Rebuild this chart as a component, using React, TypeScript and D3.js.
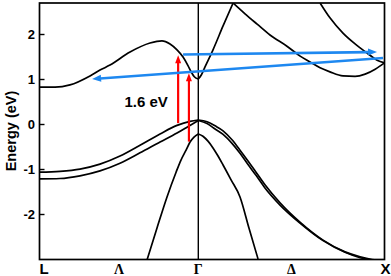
import React from "react";
import * as d3 from "d3";

type P = [number, number];

// k path coordinate: L = -1, Γ = 0, X = 1 ; energies in eV
const kLabels = ["L", "Λ", "Γ", "Δ", "X"];
const kLabelPos = [-1, -0.5, 0, 0.5, 1];
const yTicks = [-2, -1, 0, 1, 2];

const cbLeft: P[] = [
  [-1, 0.83], [-0.902, 0.83], [-0.808, 0.88], [-0.682, 1.08], [-0.619, 1.21],
  [-0.556, 1.32], [-0.43, 1.61], [-0.304, 1.81], [-0.229, 1.86], [-0.178, 1.79],
  [-0.134, 1.66], [-0.096, 1.5], [-0.065, 1.31], [-0.045, 1.17], [-0.025, 1.06], [0, 1.01],
];
const cbRightA: P[] = [
  [0, 1.01], [0.016, 1.1], [0.036, 1.28], [0.079, 1.66], [0.133, 2.19], [0.187, 2.7],
];
const cbRightB: P[] = [
  [0.187, 2.7], [0.251, 2.46], [0.316, 2.23], [0.385, 1.99], [0.476, 1.74], [0.547, 1.52],
  [0.6, 1.39], [0.654, 1.26], [0.707, 1.17], [0.777, 1.08], [0.842, 1.07], [0.896, 1.12],
  [0.95, 1.23], [1, 1.37],
];
const cbRightC: P[] = [
  [0.654, 2.7], [0.707, 2.37], [0.777, 2.03], [0.842, 1.79], [0.906, 1.59], [0.96, 1.43], [1, 1.37],
];
const vbHHLeft: P[] = [
  [-1, -1.06], [-0.871, -1.04], [-0.745, -0.99], [-0.619, -0.88], [-0.493, -0.7],
  [-0.367, -0.46], [-0.241, -0.21], [-0.134, -0.02], [-0.052, 0.07], [0, 0.1],
];
const vbLHLeft: P[] = [
  [-1, -1.21], [-0.871, -1.2], [-0.745, -1.14], [-0.619, -1.03], [-0.493, -0.86],
  [-0.367, -0.63], [-0.241, -0.39], [-0.134, -0.19], [-0.071, -0.06], [0, 0.09],
];
const vbSOLeft: P[] = [
  [-0.323, -3.01], [-0.26, -2.3], [-0.197, -1.61], [-0.14, -1.06], [-0.109, -0.79],
  [-0.077, -0.57], [-0.052, -0.39], [-0.027, -0.28], [0, -0.21],
];
const vbSORight: P[] = [
  [0, -0.21], [0.025, -0.26], [0.052, -0.37], [0.079, -0.52], [0.106, -0.7], [0.133, -0.9],
  [0.176, -1.23], [0.224, -1.61], [0.272, -2.3], [0.321, -2.99],
];
const vbHHRight: P[] = [
  [0, 0.1], [0.047, 0.06], [0.09, -0.03], [0.133, -0.14], [0.181, -0.34], [0.224, -0.57],
  [0.267, -0.81], [0.31, -1.06], [0.358, -1.34], [0.439, -1.74], [0.546, -2.17],
  [0.67, -2.57], [0.788, -2.83], [0.869, -2.94], [0.933, -3.0], [1, -3.03],
];
const vbLHRight: P[] = [
  [0, 0.09], [0.047, 0.02], [0.09, -0.1], [0.133, -0.22], [0.181, -0.42], [0.224, -0.64],
  [0.267, -0.89], [0.31, -1.13], [0.358, -1.41], [0.439, -1.79], [0.546, -2.19],
  [0.67, -2.58], [0.788, -2.84], [0.869, -2.96], [0.933, -3.01], [1, -3.04],
];
const bands = [cbLeft, cbRightA, cbRightB, cbRightC, vbHHLeft, vbLHLeft, vbSOLeft, vbSORight, vbHHRight, vbLHRight];

// transitions: [kFrom, eFrom, kTo, eTo]
const redArrows = [
  [-0.127, 0.03, -0.127, 1.54],
  [-0.059, -0.38, -0.059, 1.14],
];
const blueArrows = [
  [-0.096, 1.556, 0.96, 1.611],
  [0.992, 1.478, -0.669, 1.011],
];
const gapLabel = "1.6 eV";
const gapLabelPos: P = [-0.465, 0.4];

const W = 391, H = 276;

export default function App() {
  const x = d3.scaleLinear().domain([-1, 0, 1]).range([39.5, 198.3, 384.5]);
  const y = d3.scaleLinear().domain([-3, 2.7]).range([259.5, 3]);
  const line = d3
    .line<P>()
    .x((d) => x(d[0]))
    .y((d) => y(d[1]))
    .curve(d3.curveMonotoneX);

  const arrow = (a: number[], color: string, w: number, hl: number, hw: number, key: string) => {
    const x1 = x(a[0]), y1 = y(a[1]), x2 = x(a[2]), y2 = y(a[3]);
    const dx = x2 - x1, dy = y2 - y1;
    const len = Math.hypot(dx, dy);
    const ux = dx / len, uy = dy / len;
    const bx = x2 - ux * hl, by = y2 - uy * hl;
    const px = -uy, py = ux;
    const head = `M${x2},${y2}L${bx + px * hw / 2},${by + py * hw / 2}L${bx - px * hw / 2},${by - py * hw / 2}Z`;
    return (
      <g key={key}>
        <line x1={x1} y1={y1} x2={bx + ux * 1} y2={by + uy * 1} stroke={color} strokeWidth={w} />
        <path d={head} fill={color} />
      </g>
    );
  };

  const x0 = x(-1), x1 = x(1), yTop = y(2.7), yBot = y(-3);
  const sans = "'Liberation Sans', Arial, sans-serif";
  const serif = "'Liberation Serif', 'Times New Roman', serif";

  return (
    <svg width={W} height={H} style={{ position: "absolute", left: 0, top: 0, background: "#fff" }}>
      <defs>
        <clipPath id="plot">
          <rect x={x0} y={yTop} width={x1 - x0} height={yBot - yTop} />
        </clipPath>
      </defs>
      <g clipPath="url(#plot)">
        {bands.map((b, i) => (
          <path key={i} d={line(b) || ""} fill="none" stroke="#000" strokeWidth={1.7} />
        ))}
      </g>
      <line x1={x(0)} x2={x(0)} y1={yTop} y2={yBot} stroke="#000" strokeWidth={1.4} />
      {redArrows.map((a, i) => arrow(a, "#ff0000", 2.2, 8, 6, "r" + i))}
      {blueArrows.map((a, i) => arrow(a, "#1e88f0", 2.6, 9, 7, "b" + i))}
      <rect x={x0} y={yTop} width={x1 - x0} height={yBot - yTop} fill="none" stroke="#000" strokeWidth={1.7} />
      {yTicks.map((t) => (
        <g key={t}>
          <line x1={x0} x2={x0 + 5} y1={y(t)} y2={y(t)} stroke="#000" strokeWidth={1.4} />
          <text x={35} y={y(t)} dy="0.36em" textAnchor="end" fontFamily={sans} fontWeight="bold" fontSize={13}>
            {t}
          </text>
        </g>
      ))}
      {kLabels.map((l, i) => {
        const isGreek = i > 0 && i < 4;
        const anchor = i === 0 ? "start" : i === 4 ? "end" : "middle";
        const xp = i === 0 ? x0 : i === 4 ? x1 + 6 : x(kLabelPos[i]);
        return (
          <text
            key={l}
            x={xp}
            y={273.5}
            textAnchor={anchor}
            fontFamily={isGreek ? serif : sans}
            fontWeight="bold"
            fontSize={isGreek ? 14 : 15}
          >
            {l}
          </text>
        );
      })}
      <text
        transform={`translate(16,${131}) rotate(-90)`}
        textAnchor="middle"
        fontFamily={sans}
        fontWeight="bold"
        fontSize={14.5}
      >
        Energy (eV)
      </text>
      <text x={x(gapLabelPos[0])} y={y(gapLabelPos[1])} fontFamily={sans} fontWeight="bold" fontSize={15}>
        {gapLabel}
      </text>
    </svg>
  );
}
